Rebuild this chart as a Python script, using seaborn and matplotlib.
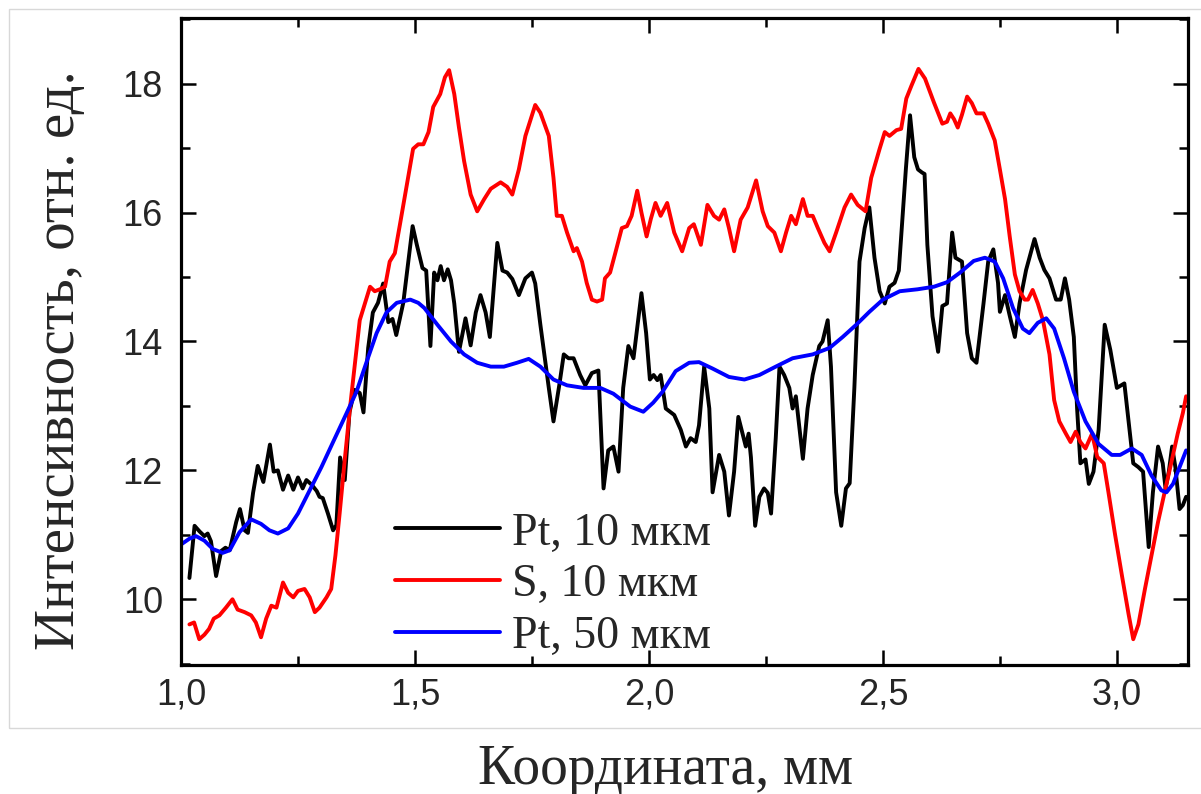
import numpy as np
import pandas as pd
import matplotlib
matplotlib.use("Agg")
import matplotlib.pyplot as plt
from matplotlib.patches import Rectangle
from matplotlib.ticker import MultipleLocator
import seaborn as sns

# ---------------- data ----------------
pt10_x = [1.018, 1.029, 1.040, 1.050, 1.057, 1.064, 1.075, 1.086, 1.095, 1.104, 1.118, 1.126, 1.136, 1.143,
          1.154, 1.164, 1.176, 1.190, 1.198, 1.207, 1.218, 1.229, 1.240, 1.250, 1.260, 1.268, 1.279, 1.290,
          1.296, 1.303, 1.314, 1.325, 1.332, 1.340, 1.350, 1.360, 1.371, 1.382, 1.390, 1.400, 1.410, 1.421,
          1.432, 1.443, 1.452, 1.460, 1.475, 1.485, 1.495, 1.504, 1.516, 1.524, 1.533, 1.541, 1.548, 1.555,
          1.562, 1.570, 1.577, 1.584, 1.594, 1.608, 1.619, 1.630, 1.640, 1.651, 1.660, 1.676, 1.687, 1.697,
          1.708, 1.722, 1.736, 1.750, 1.757, 1.768, 1.786, 1.796, 1.809, 1.818, 1.828, 1.839, 1.853, 1.864,
          1.878, 1.892, 1.903, 1.913, 1.924, 1.935, 1.945, 1.956, 1.967, 1.984, 1.994, 2.002, 2.010, 2.018,
          2.025, 2.036, 2.054, 2.068, 2.079, 2.089, 2.100, 2.107, 2.118, 2.129, 2.136, 2.150, 2.161, 2.171,
          2.182, 2.191, 2.200, 2.207, 2.213, 2.218, 2.227, 2.236, 2.246, 2.254, 2.261, 2.271, 2.279, 2.289,
          2.300, 2.307, 2.314, 2.329, 2.339, 2.350, 2.364, 2.371, 2.382, 2.389, 2.400, 2.411, 2.421, 2.429,
          2.439, 2.450, 2.461, 2.471, 2.482, 2.493, 2.504, 2.514, 2.525, 2.534, 2.549, 2.558, 2.567, 2.575,
          2.584, 2.589, 2.595, 2.606, 2.618, 2.627, 2.637, 2.648, 2.655, 2.669, 2.680, 2.690, 2.700, 2.715,
          2.725, 2.736, 2.746, 2.750, 2.761, 2.771, 2.782, 2.792, 2.806, 2.824, 2.835, 2.845, 2.856, 2.870,
          2.880, 2.889, 2.898, 2.908, 2.915, 2.922, 2.933, 2.940, 2.950, 2.961, 2.974, 2.986, 3.000, 3.016,
          3.025, 3.035, 3.046, 3.056, 3.068, 3.077, 3.088, 3.098, 3.104, 3.111, 3.118, 3.125, 3.134, 3.141,
          3.148]
pt10_y = [10.33, 11.14, 11.05, 10.98, 11.02, 10.90, 10.36, 10.75, 10.80, 10.76, 11.20, 11.40, 11.07, 11.03,
          11.65, 12.07, 11.82, 12.40, 11.98, 12.00, 11.70, 11.92, 11.70, 11.89, 11.72, 11.85, 11.78, 11.68,
          11.59, 11.57, 11.33, 11.07, 11.15, 12.20, 11.85, 12.90, 13.25, 13.20, 12.90, 13.90, 14.45, 14.60,
          14.90, 14.30, 14.35, 14.10, 14.60, 15.20, 15.79, 15.50, 15.14, 15.10, 13.93, 15.07, 14.95, 15.17,
          14.95, 15.12, 14.95, 14.59, 13.84, 14.36, 13.94, 14.45, 14.72, 14.45, 14.07, 15.53, 15.10, 15.07,
          14.97, 14.72, 14.98, 15.07, 14.90, 14.26, 13.28, 12.76, 13.35, 13.80, 13.74, 13.74, 13.48, 13.32,
          13.51, 13.55, 11.72, 12.31, 12.37, 11.98, 13.28, 13.93, 13.74, 14.75, 14.13, 13.41, 13.48, 13.40,
          13.48, 12.96, 12.86, 12.63, 12.37, 12.50, 12.44, 12.70, 13.61, 12.96, 11.66, 12.24, 11.98, 11.30,
          11.98, 12.83, 12.57, 12.37, 12.57, 12.20, 11.14, 11.59, 11.72, 11.65, 11.33, 12.50, 13.61, 13.48,
          13.28, 12.96, 13.15, 12.18, 12.96, 13.48, 13.93, 14.00, 14.33, 13.61, 11.66, 11.14, 11.72, 11.80,
          13.28, 15.24, 15.76, 16.08, 15.30, 14.78, 14.59, 14.85, 14.91, 15.10, 16.67, 17.51, 16.86, 16.67,
          16.62, 16.60, 15.50, 14.39, 13.84, 14.55, 14.59, 15.69, 15.30, 15.24, 14.13, 13.74, 13.67, 14.59,
          15.24, 15.43, 14.91, 14.46, 14.72, 14.40, 14.07, 14.59, 15.11, 15.59, 15.30, 15.11, 14.98, 14.65,
          14.65, 14.98, 14.65, 14.07, 12.96, 12.11, 12.17, 11.79, 11.98, 12.63, 14.26, 13.87, 13.28, 13.35,
          12.76, 12.11, 12.05, 11.98, 10.81, 11.66, 12.37, 12.11, 11.72, 11.98, 12.37, 12.05, 11.40, 11.46,
          11.59]

s10_x = [1.018, 1.028, 1.039, 1.050, 1.060, 1.070, 1.082, 1.096, 1.110, 1.121, 1.136, 1.150, 1.160, 1.171,
         1.182, 1.193, 1.204, 1.218, 1.229, 1.240, 1.250, 1.264, 1.275, 1.286, 1.296, 1.311, 1.321, 1.330,
         1.339, 1.350, 1.361, 1.371, 1.382, 1.393, 1.404, 1.414, 1.425, 1.436, 1.446, 1.457, 1.468, 1.482,
         1.496, 1.507, 1.518, 1.529, 1.539, 1.554, 1.564, 1.573, 1.584, 1.594, 1.605, 1.619, 1.633, 1.648,
         1.662, 1.683, 1.697, 1.708, 1.722, 1.736, 1.757, 1.768, 1.775, 1.786, 1.796, 1.803, 1.814, 1.825,
         1.839, 1.846, 1.857, 1.867, 1.878, 1.889, 1.900, 1.906, 1.917, 1.928, 1.942, 1.953, 1.963, 1.975,
         1.984, 1.995, 2.004, 2.014, 2.025, 2.039, 2.054, 2.071, 2.086, 2.096, 2.111, 2.125, 2.139, 2.150,
         2.161, 2.171, 2.182, 2.196, 2.211, 2.229, 2.243, 2.254, 2.268, 2.282, 2.293, 2.304, 2.314, 2.329,
         2.339, 2.350, 2.361, 2.375, 2.386, 2.400, 2.418, 2.432, 2.446, 2.463, 2.475, 2.493, 2.504, 2.514,
         2.529, 2.539, 2.550, 2.561, 2.576, 2.590, 2.609, 2.627, 2.637, 2.644, 2.652, 2.660, 2.669, 2.680,
         2.690, 2.700, 2.715, 2.725, 2.739, 2.750, 2.761, 2.771, 2.782, 2.792, 2.803, 2.810, 2.820, 2.831,
         2.842, 2.856, 2.866, 2.877, 2.891, 2.901, 2.912, 2.922, 2.933, 2.947, 2.958, 2.972, 2.982, 2.996,
         3.011, 3.025, 3.035, 3.046, 3.060, 3.074, 3.088, 3.102, 3.116, 3.130, 3.141, 3.148]
s10_y = [9.61, 9.64, 9.38, 9.45, 9.54, 9.70, 9.75, 9.87, 10.00, 9.84, 9.80, 9.75, 9.64, 9.41,
         9.70, 9.90, 9.87, 10.26, 10.10, 10.03, 10.13, 10.16, 10.03, 9.80, 9.87, 10.03, 10.16, 10.68,
         11.33, 12.17, 12.96, 13.61, 14.33, 14.59, 14.85, 14.78, 14.81, 14.85, 15.24, 15.37, 15.82, 16.41,
         16.99, 17.06, 17.06, 17.25, 17.64, 17.84, 18.10, 18.21, 17.84, 17.32, 16.80, 16.28, 16.02, 16.21,
         16.37, 16.47, 16.40, 16.28, 16.67, 17.19, 17.67, 17.55, 17.41, 17.19, 16.54, 15.95, 15.95, 15.69,
         15.40, 15.45, 15.24, 14.91, 14.65, 14.62, 14.65, 14.98, 15.07, 15.37, 15.76, 15.79, 15.95, 16.34,
         16.00, 15.63, 15.90, 16.15, 15.95, 16.15, 15.69, 15.40, 15.76, 15.82, 15.50, 16.12, 15.95, 15.89,
         16.05, 15.76, 15.40, 15.89, 16.08, 16.50, 16.02, 15.79, 15.69, 15.40, 15.69, 15.95, 15.82, 16.21,
         15.95, 15.95, 15.76, 15.53, 15.40, 15.69, 16.08, 16.28, 16.12, 16.02, 16.54, 16.99, 17.25, 17.19,
         17.28, 17.30, 17.77, 17.97, 18.23, 18.08, 17.71, 17.38, 17.41, 17.54, 17.45, 17.32, 17.52, 17.80,
         17.70, 17.54, 17.54, 17.38, 17.12, 16.67, 16.21, 15.63, 15.04, 14.78, 14.65, 14.65, 14.80, 14.59,
         14.33, 13.80, 13.09, 12.76, 12.57, 12.44, 12.60, 12.44, 12.34, 12.57, 12.21, 12.11, 11.66, 11.01,
         10.36, 9.77, 9.38, 9.61, 10.16, 10.68, 11.20, 11.66, 12.11, 12.57, 12.89, 13.15]

pt50_x = [1.000, 1.018, 1.032, 1.050, 1.068, 1.089, 1.104, 1.125, 1.150, 1.171, 1.189, 1.207, 1.229, 1.250,
          1.275, 1.300, 1.325, 1.354, 1.375, 1.396, 1.418, 1.439, 1.461, 1.490, 1.507, 1.520, 1.548, 1.577,
          1.605, 1.633, 1.662, 1.690, 1.718, 1.743, 1.768, 1.796, 1.825, 1.860, 1.896, 1.924, 1.960, 1.988,
          2.009, 2.029, 2.057, 2.086, 2.107, 2.136, 2.171, 2.204, 2.236, 2.271, 2.307, 2.350, 2.386, 2.414,
          2.443, 2.471, 2.500, 2.536, 2.574, 2.609, 2.637, 2.665, 2.694, 2.718, 2.739, 2.757, 2.778, 2.799,
          2.813, 2.831, 2.849, 2.866, 2.887, 2.908, 2.933, 2.961, 2.989, 3.007, 3.032, 3.053, 3.074, 3.095,
          3.106, 3.120, 3.134, 3.148]
pt50_y = [10.85, 10.94, 10.98, 10.91, 10.78, 10.72, 10.76, 11.04, 11.24, 11.17, 11.07, 11.02, 11.10, 11.33,
          11.69, 12.05, 12.44, 12.89, 13.22, 13.67, 14.13, 14.45, 14.60, 14.65, 14.60, 14.52, 14.26, 14.00,
          13.80, 13.67, 13.61, 13.61, 13.67, 13.73, 13.61, 13.41, 13.32, 13.28, 13.28, 13.19, 12.99, 12.91,
          13.05, 13.22, 13.54, 13.67, 13.68, 13.58, 13.45, 13.41, 13.48, 13.61, 13.74, 13.80, 13.90, 14.07,
          14.26, 14.46, 14.65, 14.78, 14.81, 14.85, 14.92, 15.07, 15.25, 15.30, 15.24, 14.98, 14.52, 14.20,
          14.13, 14.29, 14.36, 14.20, 13.74, 13.22, 12.76, 12.41, 12.24, 12.24, 12.34, 12.24, 11.92, 11.69,
          11.66, 11.79, 12.05, 12.31]

series_labels = ["Pt, 10 мкм", "S, 10 мкм", "Pt, 50 мкм"]
series_colors = ["#000000", "#ff0000", "#0000ff"]

x_ticks = [1.0, 1.5, 2.0, 2.5, 3.0]
x_ticklabels = ["1,0", "1,5", "2,0", "2,5", "3,0"]
y_ticks = [10, 12, 14, 16, 18]
y_ticklabels = ["10", "12", "14", "16", "18"]

x_label = "Координата, мм"
y_label = "Интенсивность, отн. ед."

# ---------------- plot ----------------
sns.set_style("ticks")
plt.rcParams["font.family"] = ["Liberation Sans", "DejaVu Sans"]

W, H = 1201, 794
fig = plt.figure(figsize=(W / 100, H / 100), dpi=100)
fig.patch.set_facecolor("white")

# light gray frame around the picture area
fig.patches.append(Rectangle((9 / W, 1 - 728 / H), 1.2, (728 - 9) / H, transform=fig.transFigure,
                             fill=False, edgecolor="#d8d8d8", linewidth=1.0, clip_on=False))

ax = fig.add_axes([181 / W, 1 - 665 / H, (1188 - 181) / W, (665 - 18) / H])

LW = 2.8
for xs, ys, lab, col in zip([pt10_x, s10_x, pt50_x], [pt10_y, s10_y, pt50_y], series_labels, series_colors):
    df = pd.DataFrame({"x": xs, "y": ys})
    sns.lineplot(data=df, x="x", y="y", ax=ax, color=col, linewidth=LW, label=lab,
                 estimator=None, sort=True)
for ln in ax.lines:
    ln.set_solid_joinstyle("round")
    ln.set_solid_capstyle("round")

ax.set_xlim(1.0, 3.152)
ax.set_ylim(8.98, 19.02)
ax.set_xlabel("")
ax.set_ylabel("")

ax.set_xticks(x_ticks)
ax.set_xticklabels(x_ticklabels, family=["Liberation Sans Narrow", "Liberation Sans"], fontsize=26)
ax.set_yticks(y_ticks)
ax.set_yticklabels(y_ticklabels, family=["Liberation Sans", "DejaVu Sans"], fontsize=26)
ax.xaxis.set_minor_locator(MultipleLocator(0.25))
ax.yaxis.set_minor_locator(MultipleLocator(1))

ax.tick_params(which="both", direction="in", top=True, right=True, width=1.8, color="black")
ax.tick_params(which="major", length=11)
ax.tick_params(which="minor", length=6.5)
ax.tick_params(axis="y", which="major", pad=13)
ax.tick_params(axis="x", which="major", pad=9)
for sp in ax.spines.values():
    sp.set_visible(True)
    sp.set_linewidth(2.3)
    sp.set_color("black")

leg = ax.legend(loc="upper left", bbox_to_anchor=((395 - 181) / (1188 - 181), (665 - 512) / (665 - 18)),
                frameon=False, borderpad=0, borderaxespad=0, handlelength=2.3, handletextpad=0.25,
                labelspacing=0.2, prop={"family": ["Liberation Serif", "DejaVu Serif"], "size": 33})
for h in leg.get_lines():
    h.set_linewidth(LW)

fig.text(60 / W, 1 - 360 / H, y_label, rotation=90, ha="center", va="center",
         family=["Liberation Serif", "DejaVu Serif"], fontsize=41)
fig.text(665 / W, 1 - 770 / H, x_label, ha="center", va="center",
         family=["Liberation Serif", "DejaVu Serif"], fontsize=40)

fig.savefig("out.png", dpi=100, facecolor="white")
